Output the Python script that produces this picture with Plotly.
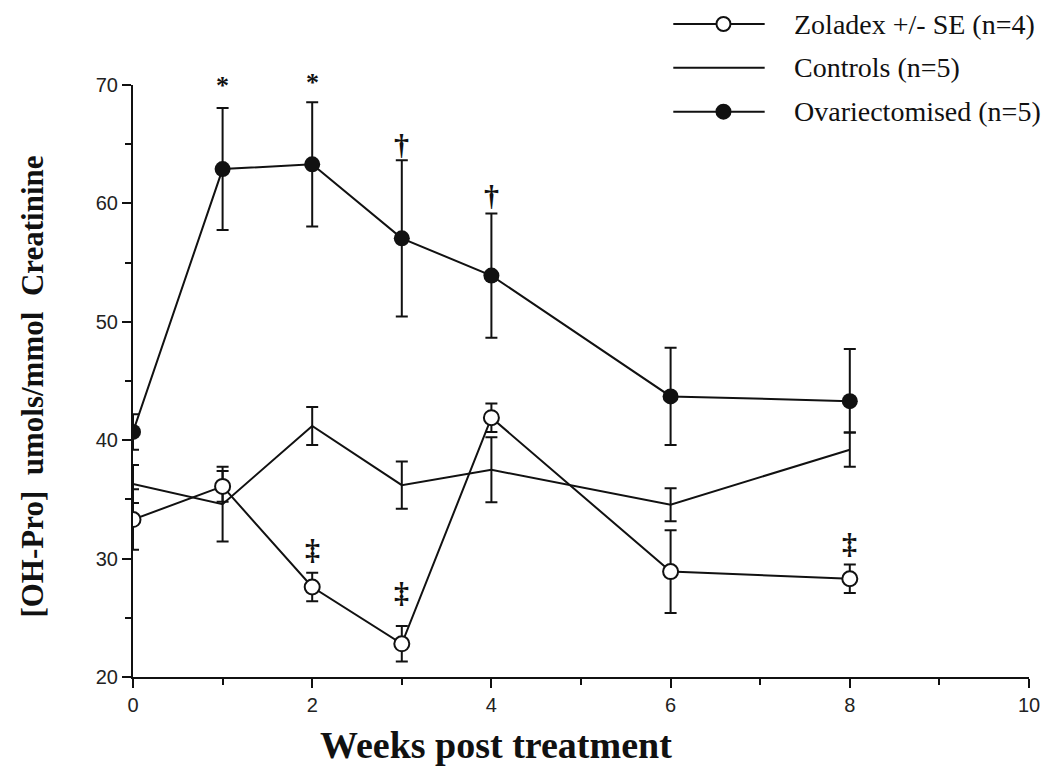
import plotly.graph_objects as go

# ---- data ----
weeks = [0, 1, 2, 3, 4, 6, 8]

zoladex = [33.3, 36.1, 27.6, 22.8, 41.9, 28.9, 28.3]
zoladex_se = [2.55, 1.3, 1.2, 1.5, 1.2, 3.5, 1.2]

controls = [36.3, 34.6, 41.2, 36.2, 37.5, 34.55, 39.2]
controls_se = [1.6, 3.15, 1.6, 2.0, 2.75, 1.4, 1.45]

ovariectomised = [40.7, 62.9, 63.3, 57.05, 53.9, 43.7, 43.3]
ovari_se_plus = [1.5, 5.15, 5.25, 6.6, 5.25, 4.1, 4.4]
ovari_se_minus = [1.5, 5.15, 5.25, 6.6, 5.25, 4.1, 2.65]

# significance markers: (week, y, symbol)
sig_weeks = [1, 2, 3, 4, 2, 3, 8]
sig_y = [70.0, 70.2, 65.0, 60.7, 30.8, 27.1, 31.3]
sig_text = ["*", "*", "†", "†", "‡", "‡", "‡"]

legend_labels = ["Zoladex +/- SE (n=4)", "Controls (n=5)", "Ovariectomised (n=5)"]

X_RANGE = [0, 10]
Y_RANGE = [20, 70]

# ---- figure ----
BLACK = "#111111"
SERIF = "Liberation Serif, Times New Roman, serif"
SANS = "Liberation Sans, Arial, sans-serif"

fig = go.Figure()

fig.add_trace(go.Scatter(
    x=weeks, y=controls, mode="lines", name=legend_labels[1],
    line=dict(color=BLACK, width=2),
    error_y=dict(type="data", array=controls_se, color=BLACK, thickness=2, width=6),
    showlegend=False))

fig.add_trace(go.Scatter(
    x=weeks, y=zoladex, mode="lines+markers", name=legend_labels[0],
    line=dict(color=BLACK, width=2),
    marker=dict(symbol="circle", size=15, color="white", line=dict(color=BLACK, width=2)),
    error_y=dict(type="data", array=zoladex_se, color=BLACK, thickness=2, width=6),
    showlegend=False))

fig.add_trace(go.Scatter(
    x=weeks, y=ovariectomised, mode="lines+markers", name=legend_labels[2],
    line=dict(color=BLACK, width=2),
    marker=dict(symbol="circle", size=16, color=BLACK),
    error_y=dict(type="data", symmetric=False, array=ovari_se_plus,
                 arrayminus=ovari_se_minus, color=BLACK, thickness=2, width=6),
    showlegend=False))

for xw, yv, t in zip(sig_weeks, sig_y, sig_text):
    # placed in paper units so markers at the top of the axis stay visible
    yp = (yv - Y_RANGE[0]) / (Y_RANGE[1] - Y_RANGE[0])
    fig.add_annotation(x=xw, xref="x", y=yp, yref="paper",
                       text="<b>%s</b>" % t, showarrow=False,
                       font=dict(family=SERIF, size=26 if t == "*" else 30, color=BLACK),
                       xanchor="center", yanchor="middle")

# ---- hand-drawn legend (top right, paper coordinates) ----
leg_y = [1.103, 1.029, 0.955]
leg_x0, leg_x1, leg_xm, leg_tx = 0.603, 0.705, 0.659, 0.735
for i, (lab, ly) in enumerate(zip(legend_labels, leg_y)):
    fig.add_shape(type="line", xref="paper", yref="paper",
                  x0=leg_x0, x1=leg_x1, y0=ly, y1=ly,
                  line=dict(color=BLACK, width=2))
    if i != 1:
        fig.add_shape(type="circle", xref="paper", yref="paper",
                      xsizemode="pixel", ysizemode="pixel",
                      xanchor=leg_xm, yanchor=ly, x0=-7, x1=7, y0=-7, y1=7,
                      line=dict(color=BLACK, width=2),
                      fillcolor="white" if i == 0 else BLACK)
    fig.add_annotation(xref="paper", yref="paper", x=leg_tx, y=ly, text=lab,
                       showarrow=False, xanchor="left", yanchor="middle",
                       font=dict(family=SERIF, size=28, color=BLACK))

# axis titles as annotations (x title sits left of centre in the reference)
fig.add_annotation(xref="paper", yref="paper", x=0.405, y=-0.115,
                   text="<b>Weeks post treatment</b>", showarrow=False,
                   xanchor="center", yanchor="middle",
                   font=dict(family=SERIF, size=38, color=BLACK))
fig.add_annotation(xref="paper", yref="paper", x=-0.112, y=0.49,
                   text="<b>[OH-Pro]  umols/mmol  Creatinine</b>", showarrow=False,
                   textangle=-90, xanchor="center", yanchor="middle",
                   font=dict(family=SERIF, size=31, color=BLACK))

fig.update_layout(
    width=1047, height=767,
    margin=dict(l=133, r=18, t=85, b=90, autoexpand=False),
    paper_bgcolor="white", plot_bgcolor="white",
    showlegend=False,
    xaxis=dict(
        range=X_RANGE, tickmode="linear", tick0=0, dtick=2,
        showgrid=False, zeroline=False, automargin=False,
        showline=True, linecolor=BLACK, linewidth=2,
        ticks="outside", ticklen=9, tickwidth=2, tickcolor=BLACK,
        minor=dict(dtick=1, ticks="outside", ticklen=6, tickwidth=2, tickcolor=BLACK, showgrid=False),
        tickfont=dict(family=SANS, size=20, color="#222222"),
    ),
    yaxis=dict(
        range=Y_RANGE, tickmode="linear", tick0=20, dtick=10,
        showgrid=False, zeroline=False, automargin=False,
        showline=True, linecolor=BLACK, linewidth=2,
        ticks="outside", ticklen=9, tickwidth=2, tickcolor=BLACK,
        minor=dict(dtick=5, ticks="outside", ticklen=6, tickwidth=2, tickcolor=BLACK, showgrid=False),
        tickfont=dict(family=SANS, size=20, color="#222222"),
    ),
)

# remove the browser's default 8px page margin so the figure fills the window exactly
fig.write_html("out.html", config={"displayModeBar": False},
               post_script="document.body.style.margin='0';document.body.style.overflow='hidden';")
